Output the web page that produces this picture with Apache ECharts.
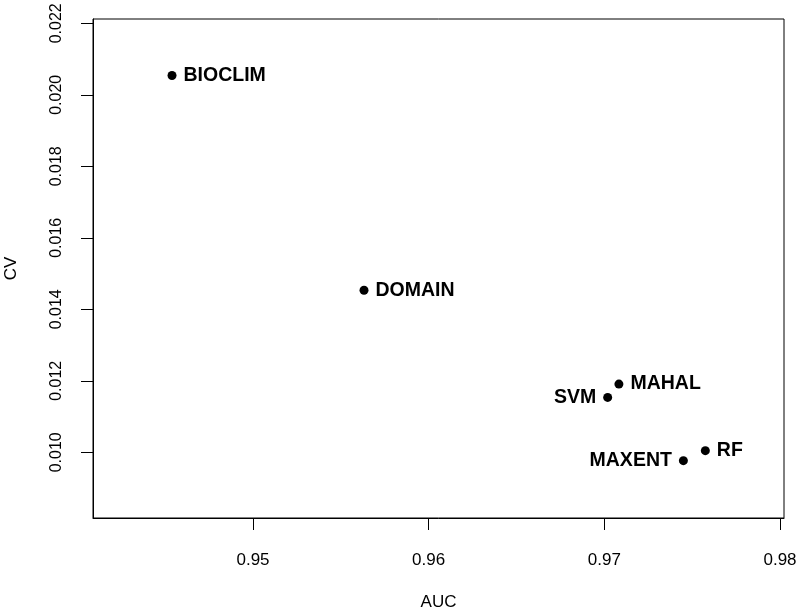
<!DOCTYPE html>
<html>
<head>
<meta charset="utf-8">
<script src="https://cdn.jsdelivr.net/npm/echarts@6/dist/echarts.min.js"></script>
<style>
html,body{margin:0;padding:0;background:#fff;}
#chart{width:798px;height:612px;}
</style>
</head>
<body>
<div id="chart"></div>
<script>
// ---- data ----
const models = ['BIOCLIM', 'DOMAIN', 'MAHAL', 'SVM', 'RF', 'MAXENT'];
const auc    = [0.94539, 0.95632, 0.97083, 0.97019, 0.97575, 0.97450];
const cv     = [0.02054, 0.014534, 0.011908, 0.011536, 0.010045, 0.009765];
const xTicks = [0.95, 0.96, 0.97, 0.98];
const yTicks = [0.010, 0.012, 0.014, 0.016, 0.018, 0.020, 0.022];

// ---- presentation ----
const leftLabeled = ['SVM', 'MAXENT'];
const FONT = '"Liberation Sans", Arial, sans-serif';

const points = models.map((m, i) => ({
  name: m,
  value: [auc[i], cv[i]],
  label: {
    position: leftLabeled.includes(m) ? 'left' : 'right'
  }
}));

const chart = echarts.init(document.getElementById('chart'), null, {renderer: 'canvas'});
chart.setOption({
  animation: false,
  backgroundColor: '#fff',
  grid: {
    left: 93, right: 14, top: 19, bottom: 94,
    containLabel: false,
    outerBoundsMode: 'none',
    show: true, borderColor: '#000', borderWidth: 1, backgroundColor: 'transparent'
  },
  xAxis: {
    type: 'value',
    min: 0.940892, max: 0.980228,
    name: 'AUC', nameLocation: 'middle', nameGap: 76,
    nameTextStyle: {fontFamily: FONT, fontSize: 17, color: '#000'},
    axisLine: {show: true, onZero: false, lineStyle: {color: '#000', width: 1}},
    axisTick: {show: true, length: 12, customValues: xTicks, lineStyle: {color: '#000'}},
    axisLabel: {
      customValues: xTicks, margin: 34, color: '#000', fontFamily: FONT, fontSize: 17,
      formatter: v => v.toFixed(2)
    },
    splitLine: {show: false}
  },
  yAxis: {
    type: 'value',
    min: 0.008162, max: 0.02212,
    name: 'CV', nameLocation: 'middle', nameGap: 73,
    nameTextStyle: {fontFamily: FONT, fontSize: 17, color: '#000'},
    axisLine: {show: true, onZero: false, lineStyle: {color: '#000', width: 1}},
    axisTick: {show: true, length: 12, customValues: yTicks, lineStyle: {color: '#000'}},
    axisLabel: {
      customValues: yTicks, margin: 28, rotate: 90, color: '#000', fontFamily: FONT, fontSize: 16,
      formatter: v => v.toFixed(3)
    },
    splitLine: {show: false}
  },
  series: [{
    type: 'scatter',
    symbol: 'circle',
    symbolSize: 9,
    itemStyle: {color: '#000', opacity: 1},
    emphasis: {disabled: true},
    label: {
      show: true,
      formatter: p => p.name,
      distance: 7,
      color: '#000',
      fontFamily: FONT,
      fontWeight: 'bold',
      fontSize: 19.5
    },
    data: points
  }]
});
</script>
</body>
</html>
